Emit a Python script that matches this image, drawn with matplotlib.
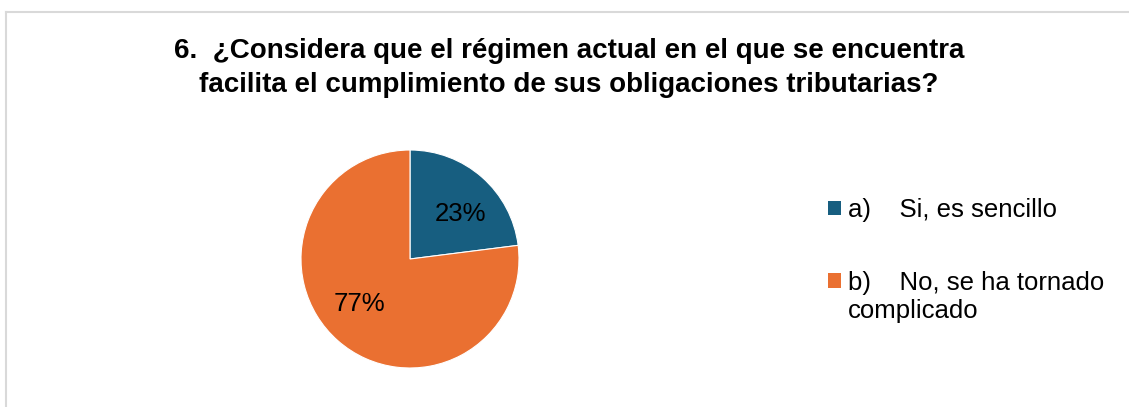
import numpy as np
import matplotlib
matplotlib.use('Agg')
from matplotlib import pyplot as plt
from matplotlib.patches import Patch, Rectangle
from matplotlib.lines import Line2D
from matplotlib.legend_handler import HandlerPatch

# datos de la encuesta
categorias = ['a)    Si, es sencillo', 'b)    No, se ha tornado\ncomplicado']
porcentajes = [23, 77]
colores = ['#175E80', '#EA7031']
titulo = '6.  ¿Considera que el régimen actual en el que se encuentra\nfacilita el cumplimiento de sus obligaciones tributarias?'

plt.rcParams['font.family'] = ['Liberation Sans', 'DejaVu Sans']

W, H = 1129, 407
fig = plt.figure(figsize=(W / 100, H / 100), dpi=100)

# marco del gráfico (sólo se ven los bordes superior e izquierdo)
fig.add_artist(Line2D([5.5 / W, 5.5 / W], [0, 1 - 12 / H], color='#D9D9D9', lw=1.5))
fig.add_artist(Line2D([5.5 / W, 1], [1 - 12 / H, 1 - 12 / H], color='#D9D9D9', lw=1.5))

fig.text(569 / W, 1 - 68 / H, titulo, ha='center', va='center', fontsize=20,
         fontweight='bold', linespacing=1.42)

cx, cy, r = 410, 259, 109
ax = fig.add_axes([(cx - r) / W, (H - cy - r) / H, 2 * r / W, 2 * r / H])
wedges, textos, autotextos = ax.pie(porcentajes, colors=colores, startangle=90, counterclock=False,
                                    autopct='%1.0f%%', pctdistance=0.63,
                                    wedgeprops=dict(linewidth=0.8, edgecolor='white'),
                                    textprops=dict(fontsize=18.5, color='black'))
# etiquetas un poco giradas en sentido horario, como en Excel
for w, t in zip(wedges, autotextos):
    ang = np.deg2rad((w.theta1 + w.theta2) / 2 - 7)
    t.set_position((0.62 * np.cos(ang), 0.62 * np.sin(ang)))
ax.set_xlim(-1, 1)
ax.set_ylim(-1, 1)
ax.set_aspect('equal')

fs_ley = 18.5

# el cuadro de color de la entrada de dos líneas va junto a la primera línea
def cuadro_arriba(legend, orig_handle, xdescent, ydescent, width, height, fontsize):
    return Rectangle((-xdescent, -ydescent + 0.66 * fontsize), width, height)

handles = [Patch(facecolor=c, edgecolor='none') for c in colores]
ley = fig.legend(handles, categorias, loc='upper left', bbox_to_anchor=(818 / W, 1 - 188 / H),
                 frameon=False, fontsize=fs_ley, handlelength=0.5, handleheight=0.5,
                 handletextpad=0.27, labelspacing=1.9, borderaxespad=0,
                 handler_map={handles[1]: HandlerPatch(patch_func=cuadro_arriba)})
for t in ley.get_texts():
    t.set_linespacing(1.2)

fig.savefig('out.png', dpi=100)
